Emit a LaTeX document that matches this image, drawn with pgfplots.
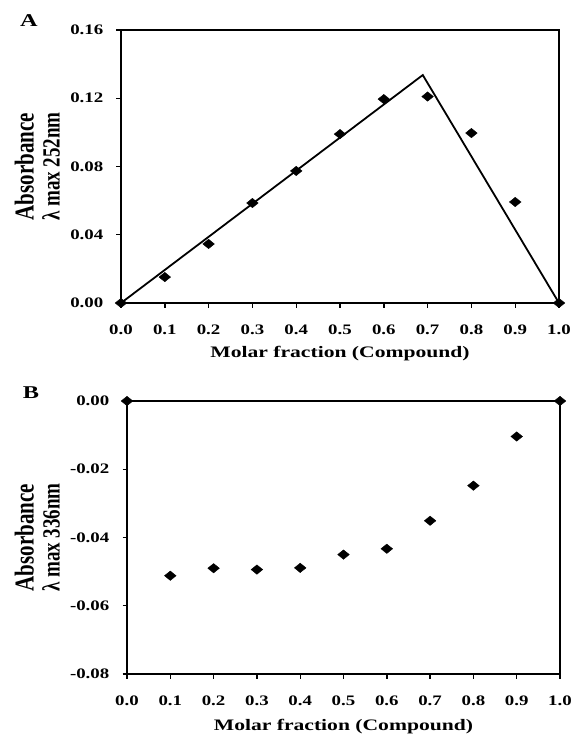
\documentclass[border=0pt]{standalone}
\usepackage{pgfplots}
\pgfplotsset{compat=1.18}
\usepackage{fontspec}
\setmainfont{Liberation Serif}
\usepackage{graphicx}
\newcommand\tl[1]{\scalebox{1.3}[1]{\fontsize{14.5}{15}\selectfont\bfseries #1}}
\newcommand\xl[1]{\scalebox{1.35}[1]{\fontsize{16}{18}\selectfont\bfseries #1}}
\newcommand\yl[2]{\scalebox{1}[1.3]{\fontsize{21}{20}\selectfont\bfseries\begin{tabular}{@{}c@{}}\fontsize{21}{20}\selectfont #1\\\fontsize{19}{20}\selectfont #2\end{tabular}}}
\pgfplotsset{
  jobstyle/.style={
    scale only axis,
    axis line style={line width=2pt},
    tick style={black, line width=1.4pt},
    major tick length=4.5pt,
    tick align=outside,
    xtick pos=bottom, ytick pos=left,
    xmin=0, xmax=1,
    xtick={0,0.1,0.2,0.3,0.4,0.5,0.6,0.7,0.8,0.9,1.0},
    xticklabel={\tl{\pgfmathprintnumber[fixed,fixed zerofill,precision=1,assume math mode=true]{\tick}}},
    yticklabel={\tl{\pgfmathprintnumber[fixed,fixed zerofill,precision=2,assume math mode=true]{\tick}}},
    xticklabel style={inner sep=0pt, yshift=-17pt},
    yticklabel style={inner sep=0pt, xshift=-13pt},
    scaled y ticks=false,
    clip=false,
  },
  dm/.style={only marks, mark=diamond*, mark size=4.7pt, mark options={xscale=1.65, fill=black, draw=black}},
}
\begin{document}
\begin{tikzpicture}[x=1pt,y=1pt]
\path[use as bounding box] (0,0) rectangle (571,-736);
\begin{axis}[jobstyle,
  at={(121pt,-303pt)}, anchor=south west,
  width=438pt, height=273pt,
  ymin=0, ymax=0.16,
  ytick={0,0.04,0.08,0.12,0.16},
  xlabel={\xl{Molar fraction (Compound)}},
  ylabel={\yl{Absorbance}{λ max 252nm}},
  every axis x label/.style={at={(rel axis cs:0.5,0)}, anchor=center, yshift=-51pt},
  every axis y label/.style={at={(rel axis cs:0,0.5)}, anchor=center, xshift=-80pt, rotate=90},
]
\addplot[black, line width=1.8pt] coordinates {(0,0) (0.689,0.1336) (1.0,0)};
\addplot[dm] coordinates {
(0.0,0) (0.1,0.0152) (0.2,0.0346) (0.3,0.0586) (0.4,0.0774) (0.5,0.099)
(0.6,0.1195) (0.7,0.121) (0.8,0.0996) (0.9,0.0592) (1.0,0)};
\end{axis}
\node at (29,-21) {\scalebox{1.35}[1]{\fontsize{18}{18}\selectfont\bfseries A}};
\begin{axis}[jobstyle,
  at={(127pt,-674pt)}, anchor=south west,
  width=433pt, height=273pt,
  ymin=-0.08, ymax=0,
  ytick={-0.08,-0.06,-0.04,-0.02,0},
  xlabel={\xl{Molar fraction (Compound)}},
  ylabel={\yl{Absorbance}{λ max 336nm}},
  every axis x label/.style={at={(rel axis cs:0.5,0)}, anchor=center, yshift=-53pt},
  every axis y label/.style={at={(rel axis cs:0,0.5)}, anchor=center, xshift=-86pt, rotate=90},
]
\addplot[dm] coordinates {
(0.0,0) (0.1,-0.0512) (0.2,-0.049) (0.3,-0.0494) (0.4,-0.0489) (0.5,-0.045)
(0.6,-0.0433) (0.7,-0.0351) (0.8,-0.0248) (0.9,-0.0104) (1.0,0)};
\end{axis}
\node at (31,-393) {\scalebox{1.35}[1]{\fontsize{18}{18}\selectfont\bfseries B}};
\end{tikzpicture}
\end{document}
